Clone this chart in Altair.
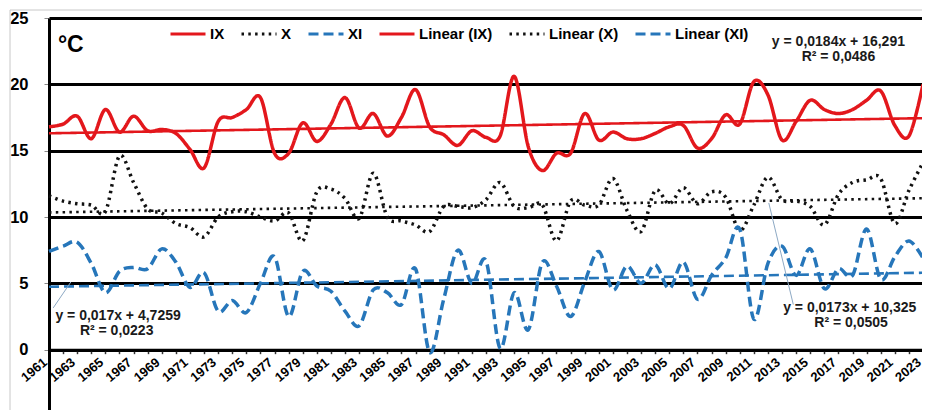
import altair as alt
import pandas as pd

# ---------------- data ----------------
years = list(range(1961, 2024))

ix = [16.8, 17.0, 17.6, 15.9, 18.1, 16.4, 17.6, 16.5, 16.6, 16.3,   # 1961-1970
      15.1, 13.7, 17.2, 17.5, 18.1, 19.0, 14.8, 14.8, 17.1, 15.7,   # 1971-1980
      17.0, 19.0, 16.7, 17.8, 16.1, 17.5, 19.6, 16.8, 16.2, 15.4,   # 1981-1990
      16.5, 16.0, 16.1, 20.6, 15.3, 13.5, 14.8, 14.8, 17.8, 15.8,   # 1991-2000
      16.4, 15.9, 15.9, 16.3, 16.8, 16.9, 15.2, 15.9, 17.7, 17.0,   # 2001-2010
      20.2, 19.2, 15.8, 17.2, 18.8, 18.1, 17.8, 18.1, 18.8, 19.5,   # 2011-2020
      16.9, 16.1, 20.0]                                             # 2021-2023

x_vals = [11.6, 11.2, 11.0, 10.9, 10.4, 14.6, 12.6, 10.6, 10.3, 9.5,
          9.2, 8.5, 10.0, 10.4, 10.4, 10.0, 9.7, 10.3, 8.2, 11.9,
          12.1, 11.4, 9.9, 13.3, 10.0, 9.7, 9.4, 8.9, 10.8, 10.8,
          10.7, 11.3, 12.6, 10.8, 10.7, 10.9, 8.2, 11.2, 10.9, 10.9,
          12.9, 10.5, 8.9, 12.0, 11.0, 12.2, 11.0, 11.9, 11.5, 9.0,
          10.9, 13.0, 11.3, 11.2, 10.8, 9.4, 11.7, 12.6, 12.8, 12.9,
          9.5, 12.0, 14.1]

xi = [7.4, 7.8, 8.1, 6.5, 4.3, 5.9, 6.2, 6.1, 7.6, 6.6,
      4.7, 5.8, 2.9, 3.7, 2.8, 5.0, 7.0, 2.5, 5.9, 4.8,
      4.4, 2.9, 1.8, 4.5, 4.3, 3.4, 6.1, -0.2, 3.8, 7.5,
      5.0, 6.7, 0.1, 4.3, 1.5, 6.6, 4.8, 2.5, 5.1, 7.4,
      4.5, 6.3, 5.0, 6.4, 4.6, 6.6, 3.8, 5.6, 6.9, 9.1,
      2.3, 6.5, 7.8, 5.6, 7.6, 4.6, 6.1, 5.6, 9.1, 5.3,
      7.0, 8.2, 6.9]

series_names = ["IX", "X", "XI"]
trend_names = ["Linear (IX)", "Linear (X)", "Linear (XI)"]
slopes = [0.0184, 0.0173, 0.017]
intercepts = [16.291, 10.325, 4.7259]

eq_texts = ["y = 0,0184x + 16,291", "R² = 0,0486",
            "y = 0,0173x + 10,325", "R² = 0,0505",
            "y = 0,017x + 4,7259", "R² = 0,0223"]
eq_year = [2017.0, 2017.0, 2017.8, 2017.9, 1965.9, 1965.8]
eq_temp = [23.2, 22.05, 3.15, 2.0, 2.55, 1.38]

# leader lines (from label to trend line)
lead_year = [1961.3, 2013.8]
lead_temp = [3.15, 3.4]
lead_year2 = [1962.55, 2012.06]
lead_temp2 = [5.1, 11.06]

y_ticks = [-5, 0, 5, 10, 15, 20, 25]

colors = ["#E3171C", "#111111", "#2676BA"]
dashes = [[1, 0], [2.5, 4.3], [10, 5]]

# ---------------- tables ----------------
W, H = 874, 398

rows = []
for name, vals in zip(series_names, [ix, x_vals, xi]):
    for yr, v in zip(years, vals):
        rows.append({"year": yr, "value": v, "series": name})
df_lines = pd.DataFrame(rows)

trows = []
for name, a, b in zip(trend_names, slopes, intercepts):
    for yr in (years[0], years[-1]):
        trows.append({"year": yr, "value": a * (yr - years[0] + 1) + b, "series": name})
df_trend = pd.DataFrame(trows)

df_eq = pd.DataFrame({"year": eq_year, "value": eq_temp, "text": eq_texts})
df_lead = pd.DataFrame({"year": lead_year, "value": lead_temp,
                        "year2": lead_year2, "value2": lead_temp2})
df_unit = pd.DataFrame({"year": [1961.63], "value": [22.97], "text": ["°C"]})

dom = series_names + trend_names
color_scale = alt.Scale(domain=dom, range=colors * 2)
dash_scale = alt.Scale(domain=dom, range=dashes * 2)

FONT = "Liberation Sans"

x_enc = alt.X(
    "year:Q",
    title=None,
    scale=alt.Scale(domain=[1961, 2023], nice=False, zero=False),
    axis=alt.Axis(
        values=years,
        format="d",
        labelExpr="datum.value % 2 == 1 ? datum.label : ''",
        offset=-H * 5 / 30,
        grid=False,
        tickSize=4,
        tickWidth=1.5,
        tickColor="#333333",
        labelAngle=-40,
        labelAlign="right",
        labelBaseline="top",
        labelFontSize=13,
        labelPadding=2,
        labelOffset=-8,
        labelOverlap=False,
        domainWidth=3,
        domainColor="black",
    ),
)
y_enc = alt.Y(
    "value:Q",
    title=None,
    scale=alt.Scale(domain=[-5, 25], nice=False, zero=False),
    axis=alt.Axis(
        values=y_ticks,
        grid=True,
        gridColor="black",
        gridWidth=3,
        tickSize=5,
        tickColor="#888888",
        labelFontSize=16.5,
        labelPadding=16,
        domainWidth=3,
        domainColor="black",
    ),
)

legend = alt.Legend(title=None, columns=6)

lines = alt.Chart(df_lines).mark_line(interpolate="cardinal", strokeWidth=3.5).encode(
    x=x_enc, y=y_enc,
    color=alt.Color("series:N", scale=color_scale, legend=legend),
    strokeDash=alt.StrokeDash("series:N", scale=dash_scale, legend=legend),
    detail="series:N",
)

trend = alt.Chart(df_trend).mark_line(strokeWidth=2.6).encode(
    x=x_enc, y=y_enc,
    color=alt.Color("series:N", scale=color_scale, legend=legend),
    strokeDash=alt.StrokeDash("series:N", scale=dash_scale, legend=legend),
    detail="series:N",
)

eq = alt.Chart(df_eq).mark_text(font=FONT, fontSize=14, fontWeight="bold",
                                color="#1a1a1a", align="center", baseline="middle").encode(
    x=x_enc, y=y_enc, text="text:N")

lead = alt.Chart(df_lead).mark_rule(color="#8DA9C4", strokeWidth=1).encode(
    x=x_enc, y=y_enc, x2="year2:Q", y2="value2:Q")

unit = alt.Chart(df_unit).mark_text(font=FONT, fontSize=23, fontWeight="bold",
                                    color="black", align="left", baseline="middle").encode(
    x=x_enc, y=y_enc, text="text:N")

frame_v = alt.Chart(pd.DataFrame({"k": [0]})).mark_rule(color="#C8C8C8", strokeWidth=1).encode(
    x=alt.value(-39), y=alt.value(-8), y2=alt.value(H + 10))
frame_h = alt.Chart(pd.DataFrame({"k": [0]})).mark_rule(color="#C8C8C8", strokeWidth=1).encode(
    x=alt.value(-39), x2=alt.value(W + 2), y=alt.value(-8))

chart = alt.layer(frame_v, frame_h, trend, lines, lead, eq, unit).properties(
    width=W, height=H,
    padding={"left": 41, "top": 10, "right": -1, "bottom": -6},
    autosize=alt.AutoSizeParams(type="none"),
    background="white",
).configure_view(strokeWidth=0).configure_axis(
    labelFont=FONT, labelFontWeight="bold", labelColor="black",
).configure_legend(
    orient="none", legendX=120, legendY=-3, direction="horizontal",
    symbolType="stroke", symbolStrokeWidth=3, symbolSize=1225,
    labelFont=FONT, labelFontSize=15, labelFontWeight="bold", labelColor="black",
    columnPadding=10, labelOffset=3, padding=0,
)

chart.save("out.html", embed_options={"renderer": "svg", "actions": False})
